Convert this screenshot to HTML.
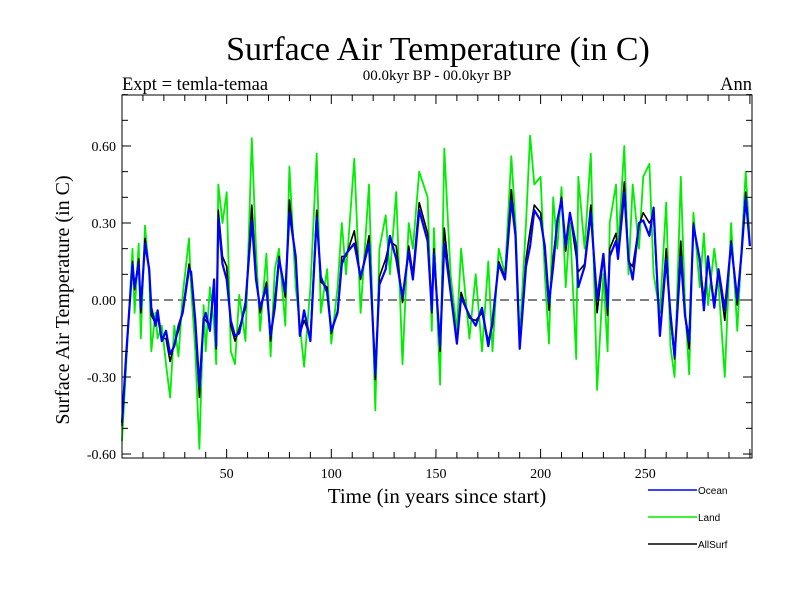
<!DOCTYPE html>
<html><head><meta charset="utf-8"><style>
html,body{margin:0;padding:0;background:#fff;}
svg{display:block;font-family:"Liberation Serif",serif;}
</style></head><body>
<svg id="chart" width="800" height="600" viewBox="0 0 800 600">
<text x="438" y="60" font-size="34" text-anchor="middle">Surface Air Temperature (in C)</text>
<text x="437" y="80" font-size="15" text-anchor="middle">00.0kyr BP - 00.0kyr BP</text>
<text x="122" y="90" font-size="18.5">Expt = temla-temaa</text>
<text x="752" y="90" font-size="18.5" text-anchor="end">Ann</text>
<text transform="translate(69,300) rotate(-90)" font-size="20" text-anchor="middle">Surface Air Temperature (in C)</text>
<text x="437" y="503" font-size="21" text-anchor="middle">Time (in years since start)</text>
<g id="plot"></g>
<g>
<g><line x1="648" y1="490" x2="697" y2="490" stroke="#0000ff" stroke-width="1.5"/><text x="698" y="494" font-size="10" font-family="Liberation Sans, sans-serif">Ocean</text></g>
<g><line x1="648" y1="517" x2="697" y2="517" stroke="#00ee00" stroke-width="1.5"/><text x="698" y="521" font-size="10" font-family="Liberation Sans, sans-serif">Land</text></g>
<g><line x1="648" y1="544" x2="697" y2="544" stroke="#000" stroke-width="1.5"/><text x="698" y="548" font-size="10" font-family="Liberation Sans, sans-serif">AllSurf</text></g>
</g>
</svg>
<script>
const years=[0,2,5,6,8,9,11,13,14,16,17,19,21,23,25,27,29,32,33,35,37,39,40,42,44,45,46,48,50,52,54,56,59,62,64,66,69,71,73,75,78,80,83,85,87,90,93,95,98,100,103,105,107,111,114,118,121,123,126,128,131,134,137,139,142,146,148,149,152,154,157,160,162,166,169,172,175,177,180,183,186,188,190,193,195,197,200,202,204,206,208,210,212,214,217,218,221,224,227,230,232,233,236,237,240,242,244,247,249,252,254,257,260,262,264,267,269,271,273,276,278,280,283,285,288,291,294,296,298,300];
const ocean=[-0.48,-0.21,0.14,0.05,0.14,-0.03,0.22,0.12,-0.03,-0.1,-0.04,-0.16,-0.12,-0.21,-0.18,-0.1,-0.05,0.12,0.11,-0.08,-0.34,-0.08,-0.05,-0.12,0.08,-0.18,0.32,0.14,0.08,-0.08,-0.14,-0.13,-0.01,0.31,0.08,-0.03,0.05,-0.14,-0.03,0.16,0.03,0.34,0.17,-0.14,-0.04,-0.16,0.32,0.09,0.03,-0.12,-0.05,0.14,0.18,0.22,0.09,0.22,-0.29,0.06,0.12,0.25,0.16,0.01,0.19,0.08,0.35,0.23,-0.04,0.18,-0.18,0.22,0.03,-0.17,0.01,-0.06,-0.1,-0.03,-0.18,-0.08,0.14,0.08,0.39,0.25,-0.19,0.13,0.21,0.35,0.31,0.21,-0.01,0.13,0.31,0.39,0.21,0.34,0.21,0.05,0.13,0.34,0.0,0.18,-0.03,0.17,0.23,0.16,0.42,0.16,0.08,0.3,0.31,0.25,0.36,-0.14,0.16,-0.05,-0.22,0.17,-0.06,-0.16,0.29,0.16,-0.04,0.17,-0.03,0.12,-0.04,0.22,0.0,0.18,0.4,0.21];
const land=[-0.55,-0.25,0.2,-0.05,0.22,-0.15,0.29,0.1,-0.2,-0.05,-0.15,-0.1,-0.25,-0.38,-0.1,-0.22,0.02,0.24,0.05,-0.2,-0.58,-0.02,-0.2,0.05,-0.1,-0.25,0.45,0.3,0.42,-0.2,-0.25,0.02,-0.16,0.63,0.2,-0.12,0.18,-0.22,0.12,0.2,-0.1,0.52,0.05,-0.1,-0.26,0.05,0.57,-0.05,0.12,-0.17,0.05,0.3,0.1,0.55,-0.05,0.45,-0.43,0.2,0.33,0.1,0.42,-0.25,0.3,0.2,0.5,0.4,-0.12,0.28,-0.33,0.59,0.1,-0.12,0.2,-0.15,0.1,-0.2,0.15,-0.2,0.2,0.1,0.56,0.3,-0.15,0.3,0.64,0.45,0.48,0.1,-0.17,0.4,0.2,0.44,0.05,0.3,-0.23,0.48,0.2,0.57,-0.35,0.1,-0.2,0.3,0.45,0.2,0.6,0.1,0.45,0.2,0.48,0.53,0.1,-0.05,0.38,-0.18,-0.3,0.48,-0.02,-0.29,0.34,0.05,0.26,-0.02,0.2,0.06,-0.3,0.3,-0.12,0.2,0.5,0.22];
const allsurf=[-0.49,-0.22,0.15,0.04,0.16,-0.05,0.24,0.12,-0.06,-0.09,-0.07,-0.15,-0.15,-0.24,-0.17,-0.12,-0.04,0.14,0.1,-0.1,-0.38,-0.07,-0.08,-0.1,0.06,-0.19,0.35,0.17,0.13,-0.1,-0.16,-0.11,-0.03,0.37,0.1,-0.05,0.07,-0.16,0.0,0.17,0.01,0.39,0.15,-0.13,-0.08,-0.14,0.35,0.07,0.05,-0.13,-0.04,0.17,0.17,0.27,0.08,0.25,-0.31,0.09,0.16,0.23,0.21,-0.01,0.21,0.1,0.38,0.26,-0.05,0.2,-0.2,0.28,0.04,-0.16,0.03,-0.07,-0.08,-0.05,-0.16,-0.1,0.15,0.09,0.43,0.26,-0.18,0.16,0.27,0.37,0.34,0.19,-0.04,0.17,0.3,0.4,0.19,0.34,0.17,0.11,0.14,0.37,-0.05,0.17,-0.06,0.2,0.26,0.17,0.46,0.15,0.13,0.29,0.34,0.3,0.33,-0.13,0.2,-0.07,-0.23,0.23,-0.06,-0.19,0.3,0.15,0.0,0.16,-0.01,0.11,-0.08,0.23,-0.02,0.18,0.42,0.21];
const yTickLabels=["0.60","0.30","0.00","-0.30","-0.60"];
const yTickValues=[0.6,0.3,0,-0.3,-0.6];
const xTickLabels=["50","100","150","200","250"];
const xTickValues=[50,100,150,200,250];

const L=122,R=752,T=95,B=458;
const X0=0,X1=301;
const xs=v=>L+(v-X0)/(X1-X0)*(R-L);
const ys=v=>300-v*256.7;
const NS="http://www.w3.org/2000/svg";
const g=document.getElementById('plot');
function mk(tag,attrs){const e=document.createElementNS(NS,tag);for(const k in attrs)e.setAttribute(k,attrs[k]);g.appendChild(e);return e;}

const z=mk('line',{x1:L,x2:R,y1:ys(0),y2:ys(0),stroke:'#000','stroke-width':1,'stroke-dasharray':'9,5'});



function series(vals,color,name,w){
  const n=Math.min(years.length,vals.length);
  let d='';
  for(let i=0;i<n;i++)d+=(i?'L':'M')+xs(years[i]).toFixed(1)+','+ys(vals[i]).toFixed(1);
  const p=mk('path',{d:d,fill:'none',stroke:color,'stroke-width':w,'stroke-linejoin':'round'});
  
  
}
series(land,'#00ee00','land-line',1.8);
series(allsurf,'#000000','allsurf-line',1.6);
series(ocean,'#0000ff','ocean-line',2.2);

const f=mk('rect',{x:L,y:T,width:R-L,height:B-T,fill:'none',stroke:'#000','stroke-width':1});



for(let k=-6;k<=8;k++){
  const v=k/10,y=ys(v);
  if(y<T-0.5||y>B+0.5)continue;
  const big=(k%3===0);
  const len=big?9:6;
  mk('line',{x1:L,x2:L+len,y1:y,y2:y,stroke:'#000','stroke-width':1});
  mk('line',{x1:R,x2:R-len,y1:y,y2:y,stroke:'#000','stroke-width':1});
}
yTickValues.forEach((v,i)=>{
  const t=mk('text',{x:L-6,y:ys(v)+5,'font-size':14,'text-anchor':'end'});
  t.textContent=yTickLabels[i];
  
  
});
for(let v=10;v<=300;v+=10){
  const x=xs(v),big=(v%50===0),len=big?9:6;
  mk('line',{x1:x,x2:x,y1:B,y2:B-len,stroke:'#000','stroke-width':1});
  mk('line',{x1:x,x2:x,y1:T,y2:T+len,stroke:'#000','stroke-width':1});
}
xTickValues.forEach((v,i)=>{
  const t=mk('text',{x:xs(v),y:B+20,'font-size':14,'text-anchor':'middle'});
  t.textContent=xTickLabels[i];
  
  
});
</script>
</body></html>
